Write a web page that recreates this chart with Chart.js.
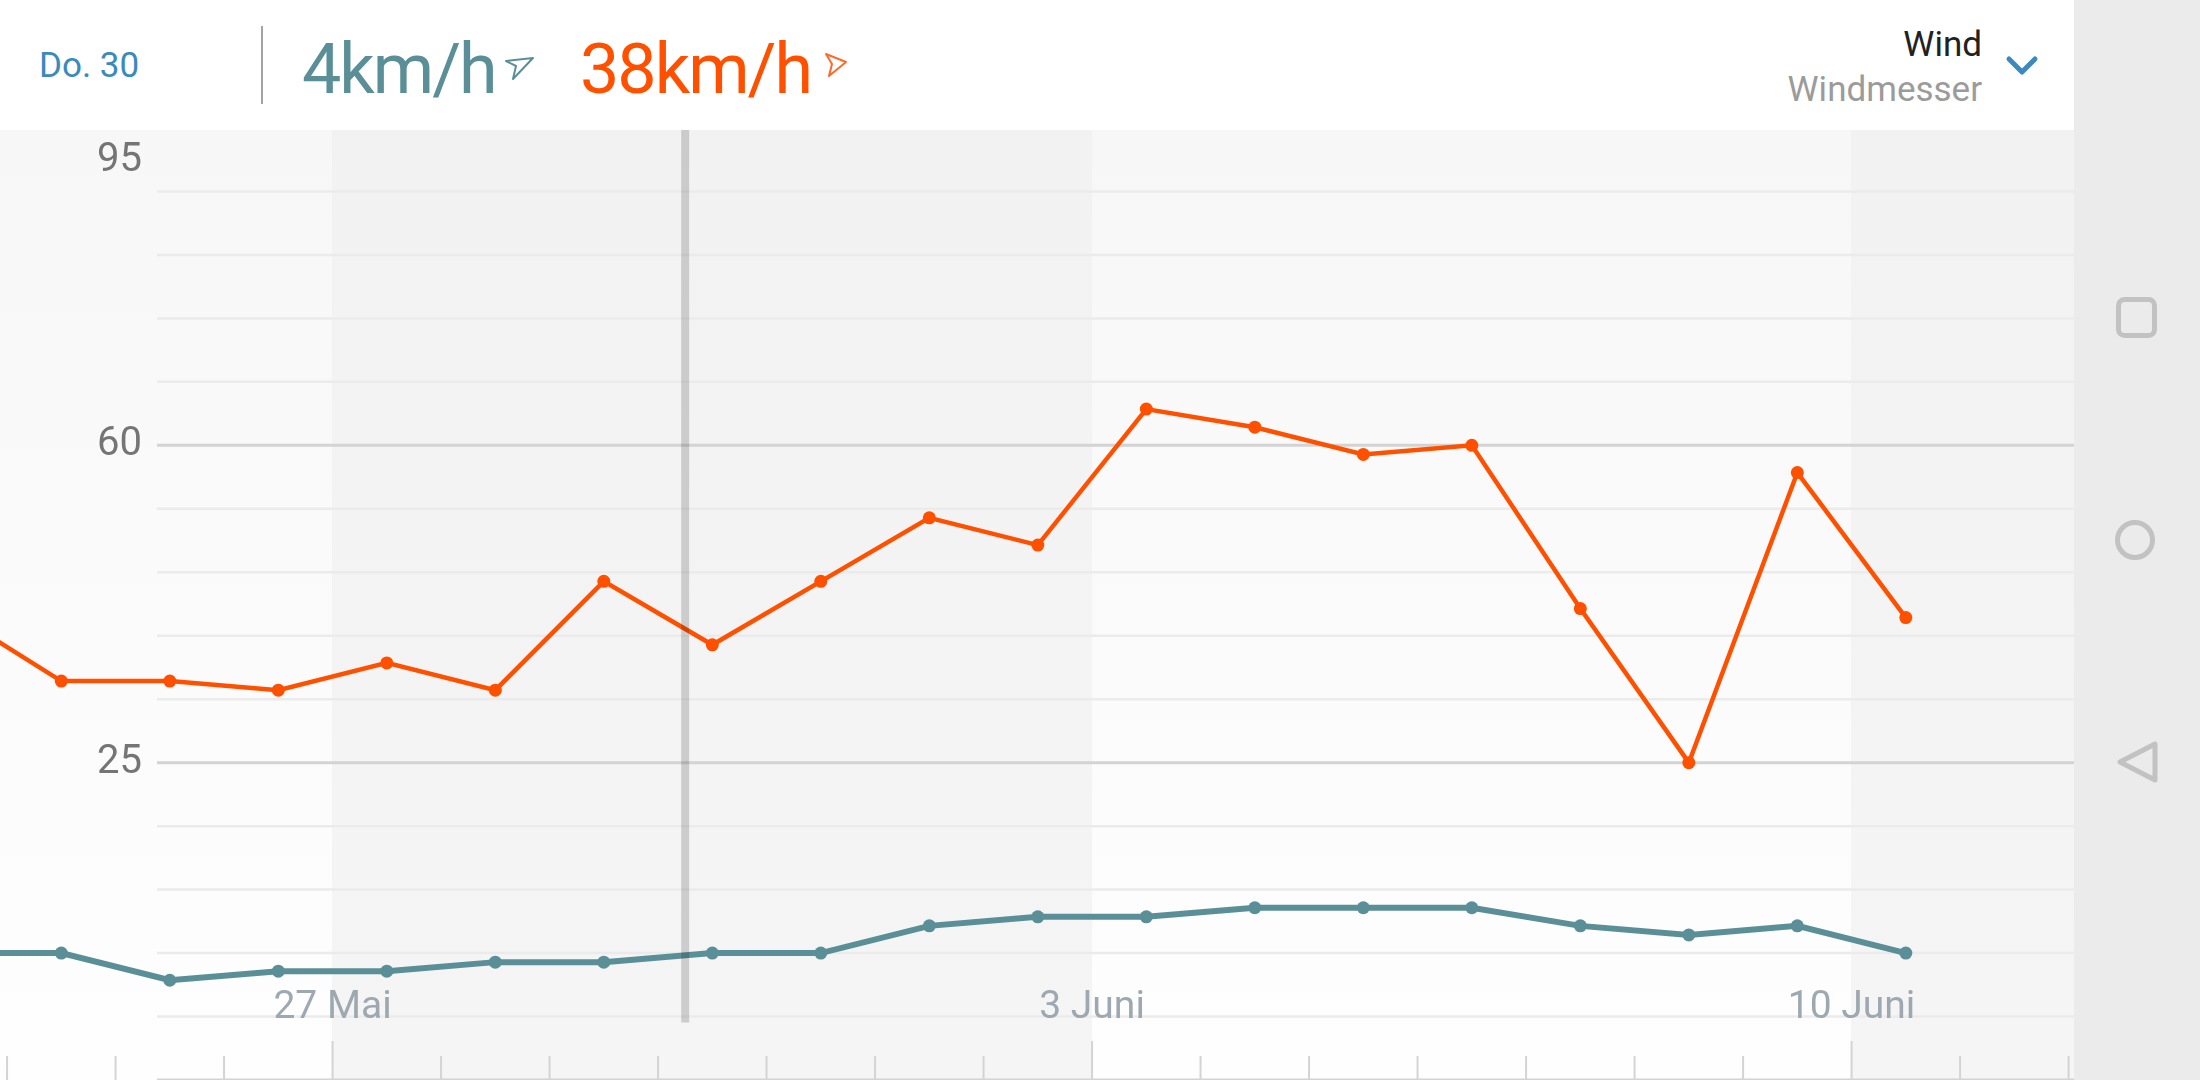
<!DOCTYPE html>
<html>
<head>
<meta charset="utf-8">
<title>Wind</title>
<script src="https://cdn.jsdelivr.net/npm/chart.js@4.4.1/dist/chart.umd.min.js"></script>
<style>
  html, body { margin: 0; padding: 0; }
  body { width: 2200px; height: 1080px; position: relative; overflow: hidden; background: #ebebeb; font-family: Roboto, sans-serif; }
  #header { position: absolute; left: 0; top: 0; width: 2074px; height: 130px; background: #fff; z-index: 2; }
  #windChart { position: absolute; left: 0; top: 128px; width: 2074px; height: 952px; }
  #navbar { position: absolute; left: 2074px; top: 0; width: 126px; height: 1080px; background: #ebebeb; }
  .t { position: absolute; white-space: nowrap; }
</style>
</head>
<body>
<div id="header">
  <div class="t" style="left:39px; top:46px; font-size:35px; line-height:40px; color:#3b89bd;">Do. 30</div>
  <div class="t" style="left:261px; top:26px; width:2px; height:78px; background:#a3a3a3;"></div>
  <div class="t" style="left:302px; top:34px; font-size:70px; line-height:70px; letter-spacing:-2px; color:#5a8f98;">4km/h</div>
  <svg class="t" style="left:504px; top:56px;" width="31" height="26" viewBox="0 0 31 26">
    <polygon points="2,5 29,2 9,23 12,10" fill="none" stroke="#5a8f98" stroke-width="2" stroke-linejoin="round"/>
  </svg>
  <div class="t" style="left:580px; top:34px; font-size:70px; line-height:70px; letter-spacing:-2px; color:#ff5000;">38km/h</div>
  <svg class="t" style="left:822px; top:51px;" width="27" height="27" viewBox="0 0 27 27">
    <polygon points="4,3 24,11 7,25 10,13" fill="none" stroke="#ff6a2a" stroke-width="2" stroke-linejoin="round"/>
  </svg>
  <div class="t" style="right:92px; top:25px; font-size:35px; line-height:40px; color:#212121;">Wind</div>
  <div class="t" style="right:92px; top:70px; font-size:35px; line-height:40px; color:#9b9b9b;">Windmesser</div>
  <svg class="t" style="left:2004px; top:52px;" width="36" height="26" viewBox="0 0 36 26">
    <polyline points="5,7 18,20 31,7" fill="none" stroke="#3b89bd" stroke-width="5" stroke-linecap="round" stroke-linejoin="round"/>
  </svg>
</div>
<canvas id="windChart" width="2074" height="952"></canvas>
<div id="navbar">
  <svg width="126" height="1080">
    <rect x="44.5" y="299.5" width="36" height="36" rx="6" fill="none" stroke="#c2c2c2" stroke-width="5"/>
    <circle cx="61" cy="540" r="17.5" fill="none" stroke="#c2c2c2" stroke-width="5"/>
    <polygon points="46,762 81,744 81,780" fill="none" stroke="#c2c2c2" stroke-width="5" stroke-linejoin="round"/>
  </svg>
</div>
<script>
const days = ['23 Mai', '24 Mai', '25 Mai', '26 Mai', '27 Mai', '28 Mai', '29 Mai', '30 Mai', '31 Mai',
  '1 Juni', '2 Juni', '3 Juni', '4 Juni', '5 Juni', '6 Juni', '7 Juni', '8 Juni', '9 Juni', '10 Juni'];
const avgWind = [4, 4, 1, 2, 2, 3, 3, 4, 4, 7, 8, 8, 9, 9, 9, 7, 6, 7, 4];
const gusts = [41.5, 34, 34, 33, 36, 33, 45, 38, 45, 52, 49, 64, 62, 59, 60, 42, 25, 57, 41];
const xTickLabels = ['27 Mai', '3 Juni', '10 Juni'];
const yTickLabels = [95, 60, 25];
const cursorDay = 7.25; // crosshair, just left of the 30 Mai point

const weekStart = days.indexOf(xTickLabels[0]);
const gridLeft = 157;

// day points sit in the middle of their day
const toPoints = vals => vals.map((v, i) => ({x: i + 0.5, y: v}));

// axes take no room: labels are drawn inside the plot
const flatAxis = s => {
    if (s.isHorizontal()) s.height = 0; else s.width = 0;
    s.paddingTop = s.paddingBottom = s.paddingLeft = s.paddingRight = 0;
};

const backdrop = {
    id: 'backdrop',
    beforeDraw(chart) {
        const {ctx, chartArea: a, scales: {x, y}} = chart;
        const light = ctx.createLinearGradient(0, a.top, 0, a.bottom);
        light.addColorStop(0, '#f7f7f7');
        light.addColorStop(1, '#fefefe');
        const dark = ctx.createLinearGradient(0, a.top, 0, a.bottom);
        dark.addColorStop(0, '#f2f2f2');
        dark.addColorStop(1, '#f5f5f5');
        ctx.save();
        // alternating weeks
        for (let k = -2; k < 4; k++) {
            const x0 = x.getPixelForValue(weekStart + 7 * k);
            const x1 = x.getPixelForValue(weekStart + 7 * (k + 1));
            ctx.fillStyle = (k % 2 === 0) ? dark : light;
            ctx.fillRect(x0, a.top, x1 - x0, a.bottom - a.top);
        }
        // horizontal grid
        y.ticks.forEach(t => {
            const py = y.getPixelForValue(t.value);
            const major = (t.value - y.min) % 35 === 0;
            ctx.strokeStyle = major ? '#d3d3d3' : '#ebebeb';
            ctx.lineWidth = major ? 3 : 2.5;
            ctx.beginPath();
            ctx.moveTo(gridLeft, py);
            ctx.lineTo(a.right, py);
            ctx.stroke();
        });
        // day tick marks along the bottom
        ctx.strokeStyle = '#d4d4d4';
        ctx.lineWidth = 2;
        x.ticks.forEach(t => {
            const px = x.getPixelForValue(t.value);
            const long = ((t.value - weekStart) % 7 + 7) % 7 === 0;
            ctx.beginPath();
            ctx.moveTo(px, a.bottom);
            ctx.lineTo(px, a.bottom - (long ? 39 : 24));
            ctx.stroke();
        });
        ctx.restore();
    },
    afterDatasetsDraw(chart) {
        const {ctx, chartArea: a, scales: {x, y}} = chart;
        const px = x.getPixelForValue(cursorDay);
        ctx.save();
        ctx.fillStyle = 'rgba(0,0,0,0.16)';
        ctx.fillRect(px - 4, a.top, 8, y.getPixelForValue(-3) + 6 - a.top);
        ctx.restore();
    }
};

Chart.defaults.font.family = 'Roboto';

new Chart(document.getElementById('windChart'), {
    type: 'line',
    data: {
        datasets: [{
            label: 'Böen',
            data: toPoints(gusts),
            borderColor: '#ff5000',
            backgroundColor: '#ff5000',
            borderWidth: 4.5,
            pointRadius: 6.5,
            pointBorderWidth: 0,
            tension: 0
        }, {
            label: 'Wind',
            data: toPoints(avgWind),
            borderColor: '#5a8f98',
            backgroundColor: '#5a8f98',
            borderWidth: 6,
            pointRadius: 6.5,
            pointBorderWidth: 0,
            tension: 0
        }]
    },
    options: {
        responsive: false,
        animation: false,
        devicePixelRatio: 1,
        layout: { padding: 0, autoPadding: false },
        plugins: { legend: { display: false }, tooltip: { enabled: false } },
        scales: {
            x: {
                type: 'linear',
                min: 0.935,
                max: 20.05,
                grid: { display: false },
                border: { display: false },
                afterFit: flatAxis,
                ticks: {
                    stepSize: 1,
                    includeBounds: false,
                    autoSkip: false,
                    minRotation: 0,
                    maxRotation: 0,
                    mirror: true,
                    padding: 48,
                    color: '#9ea8b1',
                    font: { size: 39 },
                    callback: v => xTickLabels.includes(days[v]) ? days[v] : ''
                }
            },
            y: {
                min: -10,
                max: 95,
                grid: { display: false },
                border: { display: false },
                afterFit: flatAxis,
                ticks: {
                    stepSize: 7,
                    autoSkip: false,
                    mirror: true,
                    crossAlign: 'far',
                    padding: 97,
                    color: '#757575',
                    font: { size: 40, lineHeight: 1.65 },
                    callback: v => {
                        if (!yTickLabels.includes(v)) return '';
                        // top label is pushed down into view
                        return v === Math.max(...yTickLabels) ? ['', String(v)] : String(v);
                    }
                }
            }
        }
    },
    plugins: [backdrop]
});
</script>
</body>
</html>
